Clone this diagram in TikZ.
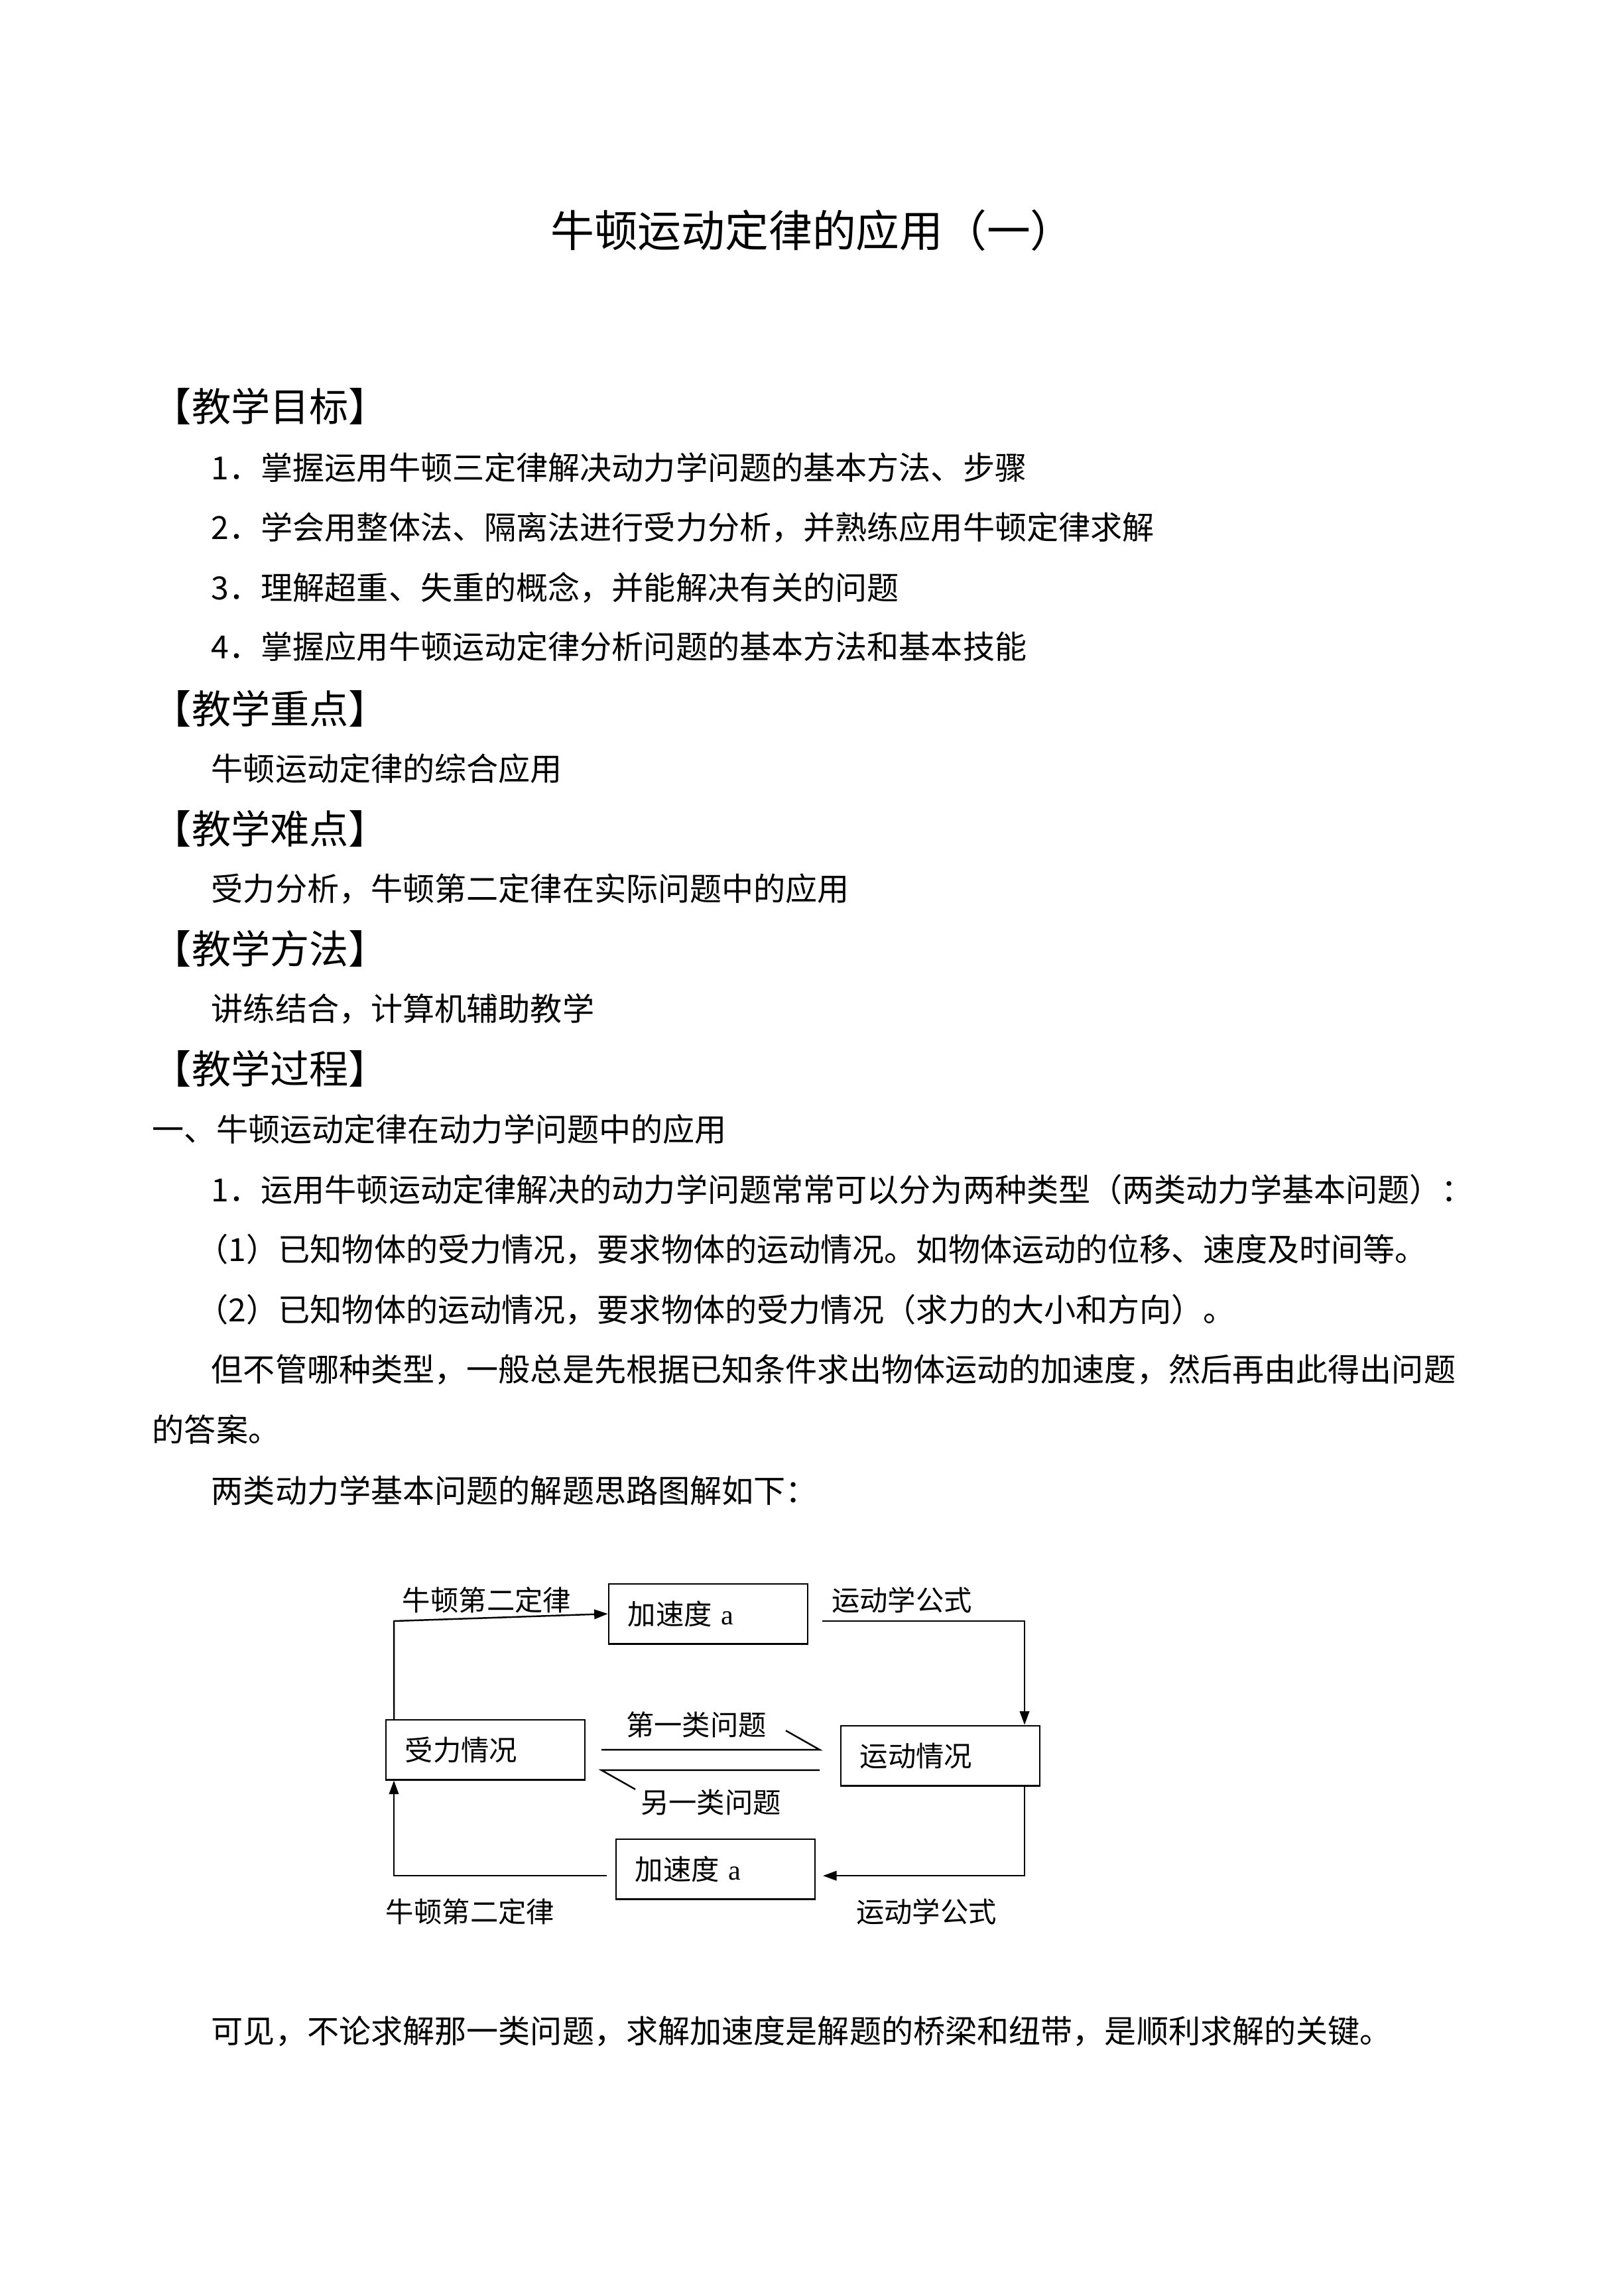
\documentclass[tikz,border=0pt]{standalone}
\usepackage{fontspec}
\setmainfont{Liberation Serif}
\newfontfamily\cjk{Noto Sans CJK SC}
\usetikzlibrary{arrows.meta}
\begin{document}
\begin{tikzpicture}[x=0.2432pt,y=-0.2420pt,
  every node/.style={inner sep=0pt},
  body/.style={anchor=west,font=\cjk\fontsize{11.7pt}{14pt}\selectfont},
  head/.style={anchor=west,font=\cjk\fontsize{14.4pt}{17pt}\selectfont},
  dtext/.style={font=\cjk\fontsize{10.3pt}{12pt}\selectfont},
  box/.style={draw,line width=0.6pt,minimum width=73pt,minimum height=22pt,text width=59pt,inner xsep=7pt,align=left,font=\cjk\fontsize{10.3pt}{12pt}\selectfont},
  conn/.style={line width=0.6pt},
  arr/.style={line width=0.6pt,-{Triangle[length=5pt,width=3.5pt]}}]
\useasboundingbox (0,0) rectangle (2448,3480);
\node[font=\cjk\fontsize{16pt}{19pt}\selectfont] (title) at (1225,349) {牛顿运动定律的应用（一）};
\node[head] (h1) at (229,616) {【教学目标】};
\node[body] (l1) at (318,709) {1．掌握运用牛顿三定律解决动力学问题的基本方法、步骤};
\node[body] (l2) at (318,800) {2．学会用整体法、隔离法进行受力分析，并熟练应用牛顿定律求解};
\node[body] (l3) at (318,891) {3．理解超重、失重的概念，并能解决有关的问题};
\node[body] (l4) at (318,980) {4．掌握应用牛顿运动定律分析问题的基本方法和基本技能};
\node[head] (h2) at (229,1074) {【教学重点】};
\node[body] (l5) at (318,1165) {牛顿运动定律的综合应用};
\node[head] (h3) at (229,1256) {【教学难点】};
\node[body] (l6) at (318,1347) {受力分析，牛顿第二定律在实际问题中的应用};
\node[head] (h4) at (229,1438) {【教学方法】};
\node[body] (l7) at (318,1529) {讲练结合，计算机辅助教学};
\node[head] (h5) at (229,1620) {【教学过程】};
\node[body] (l8) at (229,1712) {一、牛顿运动定律在动力学问题中的应用};
\node[body] (l9) at (318,1803) {1．运用牛顿运动定律解决的动力学问题常常可以分为两种类型（两类动力学基本问题）：};
\node[body] (l10) at (296,1894) {（1）已知物体的受力情况，要求物体的运动情况。如物体运动的位移、速度及时间等。};
\node[body] (l11) at (296,1985) {（2）已知物体的运动情况，要求物体的受力情况（求力的大小和方向）。};
\node[body] (l12) at (318,2076) {但不管哪种类型，一般总是先根据已知条件求出物体运动的加速度，然后再由此得出问题};
\node[body] (l13) at (229,2167) {的答案。};
\node[body] (l14) at (318,2259) {两类动力学基本问题的解题思路图解如下：};
\node[body] (l15) at (318,3079) {可见，不论求解那一类问题，求解加速度是解题的桥梁和纽带，是顺利求解的关键。};
% diagram
\node[box] (top) at (1068,2446) {加速度 {\rmfamily a}};
\node[box] (left) at (732,2652) {受力情况};
\node[box] (right) at (1418,2661) {运动情况};
\node[box] (bot) at (1079,2833) {加速度 {\rmfamily a}};
\node[dtext] (t1) at (734,2425) {牛顿第二定律};
\node[dtext] (t2) at (1360,2425) {运动学公式};
\node[dtext] (t3) at (1050,2614) {第一类问题};
\node[dtext] (t4) at (1072,2732) {另一类问题};
\node[dtext] (t5) at (709,2897) {牛顿第二定律};
\node[dtext] (t6) at (1397,2897) {运动学公式};
\coordinate (c1) at (594,2457);
\coordinate (c2) at (1240,2457);
\coordinate (c3) at (1545,2457);
\coordinate (c4) at (1545,2843);
\coordinate (c5) at (594,2843);
\coordinate (c6) at (915,2843);
\coordinate (c7) at (1241,2843);
\draw[arr] ([xshift=-33.5pt,yshift=-0.5pt]left.north) -- (c1) -- (top.west);
\draw[arr] (c2) -- (c3) -- (right.north-|c3);
\draw[arr] (right.south-|c4) -- (c4) -- (c7);
\draw[arr] (c6) -- (c5) -- (left.south-|c5);
\coordinate (m1) at (907,2652);
\coordinate (m2) at (1236,2652);
\coordinate (m3) at (1185,2623);
\coordinate (m4) at (1236,2683);
\coordinate (m5) at (907,2683);
\coordinate (m6) at (958,2712);
\draw[conn] (m1) -- (m2) -- (m3);
\draw[conn] (m4) -- (m5) -- (m6);
\end{tikzpicture}
\end{document}
